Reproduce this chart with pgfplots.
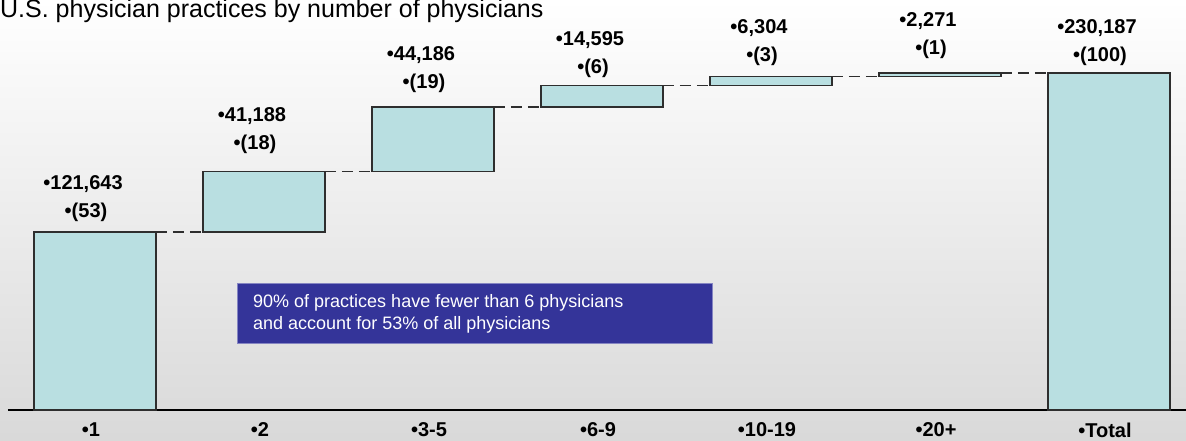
\documentclass[border=0pt]{standalone}
\usepackage{fontspec}
\setmainfont{Liberation Sans}
\usepackage{pgfplots}
\usepackage{pgfplotstable}
\pgfplotsset{compat=1.18}

\definecolor{barfill}{HTML}{B9DFE1}
\definecolor{baredge}{HTML}{2E2E2E}
\definecolor{calloutblue}{HTML}{343499}

\pgfdeclarelayer{background}
\pgfsetlayers{background,main}

% practices by size band: invisible base + visible step
\pgfplotstableread{
x base val
0 0 121643
1 121643 41188
2 162831 44186
3 207017 14595
4 221612 6304
5 227916 2271
6 0 230187
}\steps

\newcommand\labelfont{\fontsize{20}{24}\selectfont\bfseries}
% #1 x, #2 bar top, #3 raise of the share line (pt), #4 count, #5 share
\newcommand\steplabel[5]{%
  \node[anchor=base, inner sep=0pt, xshift=-9pt, yshift=#3pt, font=\labelfont] at (axis cs:#1,#2) {•(#5)};
  \node[anchor=base, inner sep=0pt, xshift=-12pt, yshift={#3pt+28pt}, font=\labelfont] at (axis cs:#1,#2) {•#4};
}

\begin{document}
\begin{tikzpicture}[x=1pt,y=1pt]
\begin{axis}[
  name=ax, at={(0,0)}, anchor=south west,
  scale only axis, width=1178pt, height=410pt,
  xmin=-0.515, xmax=6.456, ymin=0, ymax=280050,
  ybar stacked, bar width=122pt,
  axis x line=bottom, axis y line=none,
  x axis line style={-, line width=2.6pt, black},
  xtick={0,...,6},
  xticklabels={•1,•2,•3-5,•6-9,•10-19,•20+,•Total},
  major tick length=0pt, ytick=\empty,
  xticklabel style={font=\labelfont, anchor=north, yshift=-9pt, xshift=-4pt},
  clip=false,
]
\addplot[draw=none, fill=none] table[x=x, y=base] {\steps};
\addplot[fill=barfill, draw=baredge, line width=1.3pt] table[x=x, y=val] {\steps};

% dashed connectors between consecutive steps
\pgfplotsset{connector/.style={stack plots=false, sharp plot, dash pattern=on 11pt off 6pt, line width=1.5pt, black!82}}
\addplot[connector] coordinates {(0.36,121643) (0.64,121643)};
\addplot[connector] coordinates {(1.36,162831) (1.64,162831)};
\addplot[connector] coordinates {(2.36,207017) (2.64,207017)};
\addplot[connector] coordinates {(3.36,221612) (3.64,221612)};
\addplot[connector] coordinates {(4.36,227916) (4.64,227916)};
\addplot[connector] coordinates {(5.36,230187) (5.64,230187)};

\steplabel{0}{121643}{14}{121,643}{53}
\steplabel{1}{162831}{22}{41,188}{18}
\steplabel{2}{207017}{18}{44,186}{19}
\steplabel{3}{221612}{12}{14,595}{6}
\steplabel{4}{227916}{15}{6,304}{3}
\steplabel{5}{230187}{18}{2,271}{1}
\steplabel{6}{230187}{11}{230,187}{100}
\end{axis}

% page frame: 8pt left of and 31pt below the axis box
\path (ax.south west) ++(-8,-31) coordinate (bl);
\begin{scope}[shift={(bl)}]
  \begin{pgfonlayer}{background}
    \fill[top color=white, bottom color=black!15] (0,0) rectangle (1186,441);
  \end{pgfonlayer}
  \node[anchor=base west, inner sep=0pt, font=\fontsize{25}{30}\selectfont] at (0,423)
    {U.S. physician practices by number of physicians};
  % callout
  \fill[calloutblue] (237,98) rectangle (712,158);
  \draw[calloutblue!60!white, line width=0.6pt] (237,98) rectangle (712,158);
  \node[anchor=base west, inner sep=0pt, text=white, font=\fontsize{18}{21}\selectfont] at (253,133)
    {90\% of practices have fewer than 6 physicians};
  \node[anchor=base west, inner sep=0pt, text=white, font=\fontsize{18}{21}\selectfont] at (253,111)
    {and account for 53\% of all physicians};
\end{scope}
\pgfresetboundingbox
\path[use as bounding box] (bl) rectangle ++(1186,441);
\end{tikzpicture}
\end{document}
